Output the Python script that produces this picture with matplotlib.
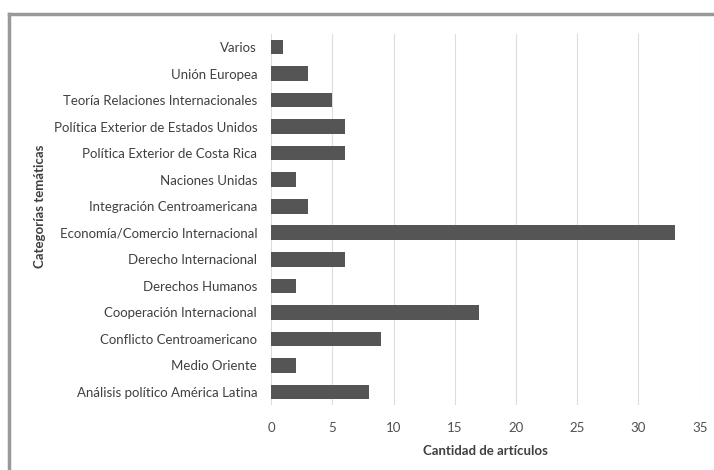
import matplotlib.pyplot as plt
from matplotlib.lines import Line2D

categorias = ['Análisis político América Latina', 'Medio Oriente',
              'Conflicto Centroamericano', 'Cooperación Internacional',
              'Derechos Humanos', 'Derecho Internacional',
              'Economía/Comercio Internacional', 'Integración Centroamericana',
              'Naciones Unidas', 'Política Exterior de Costa Rica',
              'Política Exterior de Estados Unidos',
              'Teoría Relaciones Internacionales', 'Unión Europea', 'Varios']
articulos = [8, 2, 9, 17, 2, 6, 33, 3, 2, 6, 6, 5, 3, 1]
xticks = [0, 5, 10, 15, 20, 25, 30, 35]

plt.rcParams['font.family'] = ['Lato', 'DejaVu Sans']

fig = plt.figure(figsize=(7.14, 4.7), dpi=100)
ax = fig.add_axes([0.3796, 0.138, 0.6004, 0.79])

ax.barh(range(len(categorias)), articulos, height=0.55, color='#555555', zorder=3)
ax.set_yticks(range(len(categorias)))
ax.set_yticklabels(categorias, fontsize=9.5, color='#404040')
ax.set_xticks(xticks)
ax.set_xticklabels([str(t) for t in xticks], fontsize=9.5, color='#505050')
ax.set_xlim(0, 35)
ax.set_ylim(-0.5, len(categorias) - 0.5)
ax.grid(axis='x', color='#dddddd', linewidth=0.8, zorder=0)
ax.tick_params(axis='both', length=0)
ax.tick_params(axis='y', pad=10)
ax.tick_params(axis='x', pad=12)
for s in ax.spines.values():
    s.set_visible(False)

ax.set_xlabel('Cantidad de artículos', fontsize=9.5, fontweight='bold',
              color='#404040', labelpad=8)
fig.text(0.056, 0.56, 'Categorías temáticas', rotation=90, fontsize=9.5,
         fontweight='bold', color='#404040', ha='center', va='center')

# marco exterior
fig.add_artist(Line2D([0.0126, 0.0126], [0, 0.97], transform=fig.transFigure,
                      color='#999999', linewidth=2.5))
fig.add_artist(Line2D([0.0126, 1.0], [0.97, 0.97], transform=fig.transFigure,
                      color='#999999', linewidth=2.5))

fig.savefig('out.png', dpi=100)
